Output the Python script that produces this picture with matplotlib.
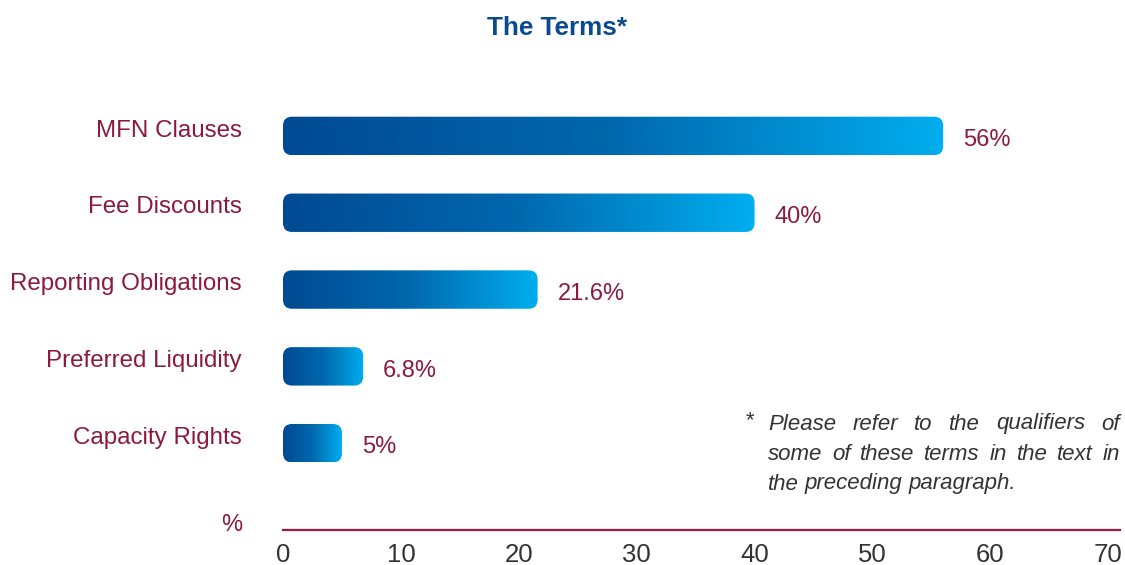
import matplotlib
matplotlib.use("Agg")
import matplotlib.pyplot as plt
import numpy as np
from matplotlib.patches import FancyBboxPatch
from matplotlib.colors import LinearSegmentedColormap

categories = ["MFN Clauses", "Fee Discounts", "Reporting Obligations",
              "Preferred Liquidity", "Capacity Rights"]
values = [56, 40, 21.6, 6.8, 5]
value_labels = ["56%", "40%", "21.6%", "6.8%", "5%"]
xticks = [0, 10, 20, 30, 40, 50, 60, 70]
title = "The Terms*"
footnote_lines = ["Please refer to the qualifiers of",
                  "some of these terms in the text in",
                  "the preceding paragraph."]

CRIMSON = "#8c1a3e"
TITLE_BLUE = "#0b4a8c"
FONT = ["Liberation Sans", "DejaVu Sans"]

W, H = 1125, 565
fig = plt.figure(figsize=(W / 100, H / 100), dpi=100)
ax_left, ax_right, ax_bottom, ax_top = 283, 1120, 530, 97.5
ax = fig.add_axes([ax_left / W, 1 - ax_bottom / H,
                   (ax_right - ax_left) / W, (ax_bottom - ax_top) / H])
XMAX = 71
YLIM = (5.13, -0.5)

cmap = LinearSegmentedColormap.from_list("g", ["#004a93", "#0068ae", "#00aeef"])
grad = np.linspace(0, 1, 256).reshape(1, -1)
bh = 0.5
px_x = (ax_right - ax_left) / XMAX
px_y = (ax_bottom - ax_top) / (YLIM[0] - YLIM[1])
r_px = 9
rx = r_px / px_x
ry = r_px / px_y

for i, (v, lab) in enumerate(zip(values, value_labels)):
    patch = FancyBboxPatch((0, i - bh / 2), v, bh,
                           boxstyle=f"round,pad=0,rounding_size={rx}",
                           mutation_aspect=ry / rx, fc="none", ec="none")
    ax.add_patch(patch)
    im = ax.imshow(grad, cmap=cmap, extent=[0, v, i + bh / 2, i - bh / 2],
                   aspect="auto", interpolation="bilinear")
    im.set_clip_path(patch)
    ax.text(v + 20 / px_x, i + 0.055, lab, va="center", ha="left",
            color=CRIMSON, fontsize=17, family=FONT)
    ax.text(-41 / px_x, i - 0.07, categories[i], va="center", ha="right",
            color=CRIMSON, fontsize=17.4, family=FONT, clip_on=False)

ax.set_xlim(0, XMAX)
ax.set_ylim(*YLIM)
ax.set_xticks(xticks)
ax.set_xticklabels([str(t) for t in xticks], fontsize=18.5, color="#333333",
                   family=FONT)
ax.set_yticks([])
ax.tick_params(axis="x", length=0, pad=9)
for s in ["top", "right", "left"]:
    ax.spines[s].set_visible(False)
ax.spines["bottom"].set_color("#a8173f")
ax.spines["bottom"].set_linewidth(1.6)
ax.patch.set_alpha(0)

fig.text(232 / W, 1 - 525 / H, "%", ha="center", va="center",
         color=CRIMSON, fontsize=17, family=FONT)
fig.text(557 / W, 1 - 28 / H, title, ha="center", va="center",
         color=TITLE_BLUE, fontsize=18.8, fontweight="bold", family=FONT)

# footnote with justified lines
renderer = fig.canvas.get_renderer()
fkw = dict(fontsize=16, style="italic", color="#333333", family=FONT,
           va="center", ha="left")
fig.text(745 / W, 1 - 421 / H, "*", **fkw)
x0, x1 = 768, 1120
ys = [424, 454, 484]
for li, (line, y) in enumerate(zip(footnote_lines, ys)):
    words = line.split(" ")
    texts = [fig.text(0, 0, w, **fkw) for w in words]
    widths = [t.get_window_extent(renderer).width for t in texts]
    if li < 2:
        gap = (x1 - x0 - sum(widths)) / (len(words) - 1)
    else:
        tmp = fig.text(0, 0, line, **fkw)
        gap = (tmp.get_window_extent(renderer).width - sum(widths)) / (len(words) - 1)
        tmp.remove()
    x = x0
    for t, w in zip(texts, widths):
        t.set_position((x / W, 1 - y / H))
        x += w + gap

fig.savefig("out.png", dpi=100)
